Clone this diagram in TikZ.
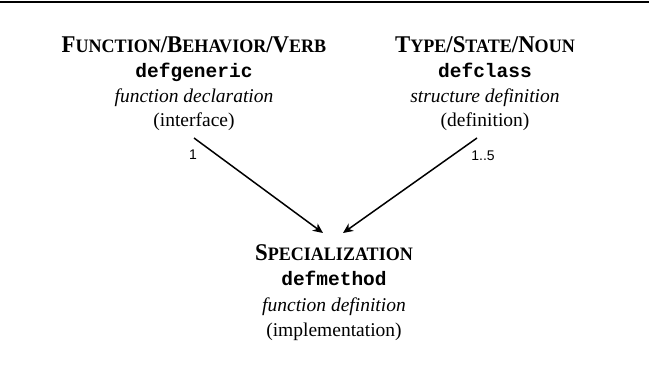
\documentclass[tikz,border=0pt]{standalone}
\usepackage{graphicx}
\usepackage{fontspec}
\setmainfont{Liberation Serif}
\setmonofont{Liberation Mono}
\setsansfont{Liberation Sans}
\usetikzlibrary{arrows.meta}
\newcommand\hsmall[1]{{\fontsize{19pt}{19pt}\selectfont #1}}
\tikzset{
  base/.style={anchor=base, inner sep=0pt, outer sep=0pt},
  headtxt/.style={base, font=\fontsize{24pt}{24pt}\selectfont\bfseries},
  codetxt/.style={base, font=\fontsize{19.5pt}{20pt}\selectfont\ttfamily\bfseries},
  desctxt/.style={base, font=\fontsize{19.5pt}{20pt}\selectfont\itshape},
  roletxt/.style={base, font=\fontsize{19.5pt}{20pt}\selectfont},
  multtxt/.style={inner sep=0pt, font=\fontsize{14pt}{14pt}\selectfont\sffamily},
  conn/.style={line width=1.5pt, -{Stealth[length=10pt,width=9pt,inset=3pt]}},
  rule/.style={line width=1.3pt}
}
\begin{document}
\begin{tikzpicture}[x=1pt,y=-1pt]
\useasboundingbox (0,0) rectangle (649,370);
\coordinate (rl) at (0,2);
\coordinate (rr) at (649,2);
\draw[rule] (rl) -- (rr);
% left column
\node[headtxt] (fh) at (194,52) {\scalebox{0.95}[1]{F\hsmall{UNCTION}/B\hsmall{EHAVIOR}/V\hsmall{ERB}}};
\node[codetxt] (fc) at (194,77) {defgeneric};
\node[desctxt] (fd) at (194,102) {function declaration};
\node[roletxt] (fr) at (194,126) {(interface)};
% right column
\node[headtxt] (th) at (485,52) {\scalebox{0.95}[1]{T\hsmall{YPE}/S\hsmall{TATE}/N\hsmall{OUN}}};
\node[codetxt] (tc) at (485,77) {defclass};
\node[desctxt] (td) at (485,102) {structure definition};
\node[roletxt] (tr) at (485,126) {(definition)};
% bottom
\node[headtxt] (sh) at (334,260) {\scalebox{0.95}[1]{S\hsmall{PECIALIZATION}}};
\node[codetxt] (sc) at (334,285) {defmethod};
\node[desctxt] (sd) at (334,311) {function definition};
\node[roletxt] (sr) at (334,336) {(implementation)};
% connectors
\coordinate (fa) at (194,138);
\coordinate (ta) at (477,138);
\coordinate (sl) at (323,233);
\coordinate (sr2) at (343,233);
\draw[conn] (fa) -- (sl);
\draw[conn] (ta) -- (sr2);
\node[multtxt] (m1) at (193,155) {1};
\node[multtxt] (m2) at (483,156) {1..5};
\end{tikzpicture}
\end{document}
